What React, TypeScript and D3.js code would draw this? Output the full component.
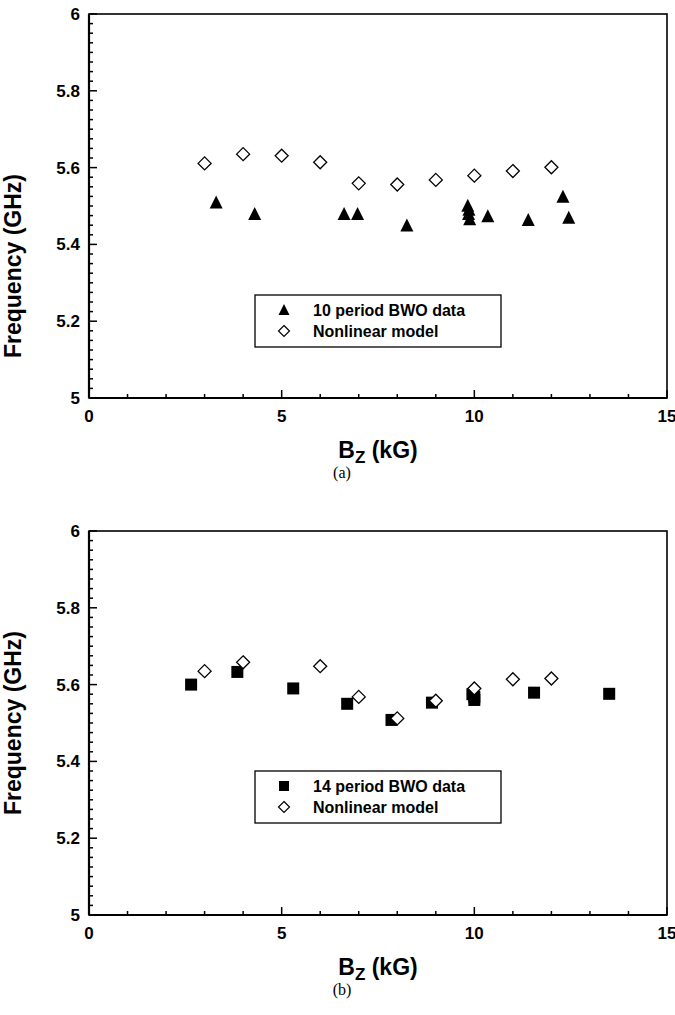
import React from "react";
import * as d3 from "d3";

// ---- Data (a) ----
const bwo10B = [3.3, 4.3, 6.62, 6.97, 8.25, 9.83, 9.86, 9.85, 9.88, 10.35, 11.4, 12.3, 12.45];
const bwo10F = [5.509, 5.479, 5.479, 5.479, 5.449, 5.5, 5.49, 5.479, 5.465, 5.473, 5.463, 5.524, 5.469];
const modelAB = [3, 4, 5, 6, 7, 8, 9, 10, 11, 12];
const modelAF = [5.611, 5.635, 5.631, 5.614, 5.559, 5.556, 5.568, 5.579, 5.591, 5.601];

// ---- Data (b) ----
const bwo14B = [2.65, 3.85, 5.3, 6.7, 7.85, 8.9, 9.95, 10.0, 10.0, 11.55, 13.5];
const bwo14F = [5.6, 5.633, 5.59, 5.55, 5.508, 5.553, 5.575, 5.568, 5.56, 5.579, 5.576];
const modelBB = [3, 4, 6, 7, 8, 9, 10, 11, 12];
const modelBF = [5.635, 5.658, 5.648, 5.568, 5.512, 5.558, 5.59, 5.614, 5.616];

const xMajor = [0, 5, 10, 15];
const yMajor = [5, 5.2, 5.4, 5.6, 5.8, 6];
const xTickLabels = ["0", "5", "10", "15"];
const yTickLabels = ["5", "5.2", "5.4", "5.6", "5.8", "6"];

const legendA = ["10 period BWO data", "Nonlinear model"];
const legendB = ["14 period BWO data", "Nonlinear model"];

const W = 578;
const H = 384;
const FONT = "'Liberation Sans', Arial, Helvetica, sans-serif";

const tri = (cx: number, cy: number, s: number) =>
  `M${cx},${cy - s * 0.55}L${cx + s / 2},${cy + s * 0.45}L${cx - s / 2},${cy + s * 0.45}Z`;
const dia = (cx: number, cy: number, r: number) =>
  `M${cx},${cy - r}L${cx + r},${cy}L${cx},${cy + r}L${cx - r},${cy}Z`;

function Panel({
  top,
  dataB,
  dataF,
  kind,
  mB,
  mF,
  legend,
  legendTop,
  yLabelCenter,
  caption,
}: any) {
  const x = d3.scaleLinear().domain([0, 15]).range([0, W]);
  const y = d3.scaleLinear().domain([5, 6]).range([H, 0]);
  const xMinor = d3.range(0, 16, 1).filter((v) => v % 5 !== 0);
  const yMinor = d3.range(0, 41).map((i) => 5 + i * 0.025).filter((_, i) => i % 8 !== 0);
  const left = 89;
  return (
    <g transform={`translate(${left},${top})`}>
      {/* frame */}
      <rect x={0} y={0} width={W} height={H} fill="none" stroke="#000" strokeWidth={1.6} />
      <line x1={0} y1={0} x2={0} y2={H} stroke="#000" strokeWidth={2.2} />
      <line x1={0} y1={H} x2={W} y2={H} stroke="#000" strokeWidth={2.2} />
      {/* x ticks */}
      {xMinor.map((v) => (
        <line key={"xm" + v} x1={x(v)} x2={x(v)} y1={H} y2={H - 4} stroke="#000" strokeWidth={1.5} />
      ))}
      {xMajor.map((v, i) => (
        <g key={"xM" + v}>
          <line x1={x(v)} x2={x(v)} y1={H} y2={H - 8} stroke="#000" strokeWidth={1.5} />
          <text x={x(v)} y={H + 24} textAnchor="middle" fontFamily={FONT} fontWeight="bold" fontSize={17}>
            {xTickLabels[i]}
          </text>
        </g>
      ))}
      {/* y ticks */}
      {yMinor.map((v, i) => (
        <line key={"ym" + i} x1={0} x2={4} y1={y(v)} y2={y(v)} stroke="#000" strokeWidth={1.5} />
      ))}
      {yMajor.map((v, i) => (
        <g key={"yM" + v}>
          <line x1={0} x2={8} y1={y(v)} y2={y(v)} stroke="#000" strokeWidth={1.5} />
          <text x={-9} y={y(v) + 6} textAnchor="end" fontFamily={FONT} fontWeight="bold" fontSize={17}>
            {yTickLabels[i]}
          </text>
        </g>
      ))}
      {/* axis titles */}
      <text
        transform={`translate(${-68},${yLabelCenter}) rotate(-90)`}
        textAnchor="middle"
        fontFamily={FONT}
        fontWeight="bold"
        fontSize={23}
      >
        Frequency (GHz)
      </text>
      <text x={W / 2} y={H + 60} textAnchor="middle" fontFamily={FONT} fontWeight="bold" fontSize={23}>
        B<tspan fontSize={17} dy={5}>Z</tspan>
        <tspan dy={-5}> (kG)</tspan>
      </text>
      <text x={253} y={H + 80} textAnchor="middle" fontFamily="'Liberation Serif', 'Times New Roman', serif" fontSize={16}>
        {caption}
      </text>
      {/* data */}
      {dataB.map((b: number, i: number) =>
        kind === "tri" ? (
          <path key={"d" + i} d={tri(x(b), y(dataF[i]), 13)} fill="#000" />
        ) : (
          <rect key={"d" + i} x={x(b) - 6} y={y(dataF[i]) - 6} width={12} height={12} fill="#000" />
        )
      )}
      {mB.map((b: number, i: number) => (
        <path key={"m" + i} d={dia(x(b), y(mF[i]), 6.5)} fill="#fff" stroke="#000" strokeWidth={1.3} />
      ))}
      {/* legend */}
      <g transform={`translate(166,${legendTop})`}>
        <rect x={0} y={0} width={246} height={52} fill="#fff" stroke="#000" strokeWidth={1.3} />
        {kind === "tri" ? (
          <path d={tri(29, 15, 11)} fill="#000" />
        ) : (
          <rect x={24} y={10} width={10} height={10} fill="#000" />
        )}
        <path d={dia(29, 36, 5.5)} fill="#fff" stroke="#000" strokeWidth={1.2} />
        <text x={58} y={21} fontFamily={FONT} fontWeight="bold" fontSize={16}>
          {legend[0]}
        </text>
        <text x={58} y={42} fontFamily={FONT} fontWeight="bold" fontSize={16}>
          {legend[1]}
        </text>
      </g>
    </g>
  );
}

export default function App() {
  return (
    <svg width={675} height={1015} style={{ position: "absolute", left: 0, top: 0, background: "#fff" }}>
      <rect width={675} height={1015} fill="#fff" />
      <Panel
        top={14}
        dataB={bwo10B}
        dataF={bwo10F}
        kind="tri"
        mB={modelAB}
        mF={modelAF}
        legend={legendA}
        legendTop={281}
        yLabelCenter={252}
        caption="(a)"
      />
      <Panel
        top={531}
        dataB={bwo14B}
        dataF={bwo14F}
        kind="sq"
        mB={modelBB}
        mF={modelBF}
        legend={legendB}
        legendTop={240}
        yLabelCenter={192}
        caption="(b)"
      />
    </svg>
  );
}
